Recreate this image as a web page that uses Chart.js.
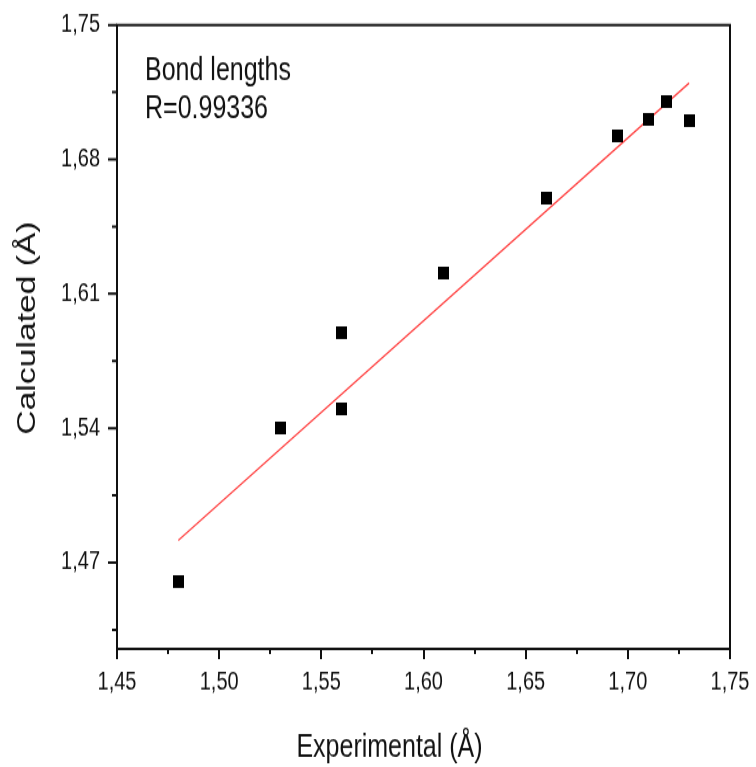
<!DOCTYPE html>
<html><head><meta charset="utf-8">
<script src="https://cdn.jsdelivr.net/npm/chart.js@4"></script>
<style>
html,body{margin:0;padding:0;background:#fff;width:756px;height:767px}
#outer{width:756px;height:767px;position:relative;overflow:visible}
#wrap{position:absolute;left:0;top:0;width:756px;height:604px;transform:scaleY(1.26987);transform-origin:0 0}
canvas{display:block}
</style>
</head><body><div id="outer"><div id="wrap"><canvas id="c" width="756" height="604"></canvas></div></div>
<script>
const experimental = [1.48, 1.53, 1.56, 1.56, 1.61, 1.66, 1.695, 1.71, 1.719, 1.73];
const calculated   = [1.460, 1.540, 1.590, 1.550, 1.621, 1.660, 1.692, 1.701, 1.710, 1.700];
const fitX = [1.48, 1.73];
const fitY = [1.4815, 1.7198];
const xTicks = [1.45, 1.50, 1.55, 1.60, 1.65, 1.70, 1.75];
const yTicks = [1.47, 1.54, 1.61, 1.68, 1.75];
const xMinorTicks = [1.475, 1.525, 1.575, 1.625, 1.675, 1.725];
const yMinorTicks = [1.435, 1.505, 1.575, 1.645, 1.715];
const annotation = ['Bond lengths', 'R=0.99336'];
const xTitle = 'Experimental (Å)';
const yTitle = 'Calculated (Å)';

const FONT = '"Liberation Sans", Arial, sans-serif';
const fmt = v => Number(v).toFixed(2).replace('.', ',');

const sq = document.createElement('canvas');
sq.width = 11; sq.height = 10;
const g = sq.getContext('2d'); g.fillStyle = '#000'; g.fillRect(0, 0, 11, 10);

const deco = {
  id: 'deco',
  afterDraw(chart) {
    const {ctx, chartArea: a, scales: {x, y}} = chart;
    ctx.save();
    ctx.strokeStyle = '#111';
    ctx.lineWidth = 2;
    ctx.strokeRect(a.left, a.top, a.right - a.left, a.bottom - a.top);
    ctx.beginPath();
    xTicks.forEach(v => { const p = Math.round(x.getPixelForValue(v)); ctx.moveTo(p, a.bottom); ctx.lineTo(p, a.bottom + 8); });
    xMinorTicks.forEach(v => { const p = Math.round(x.getPixelForValue(v)); ctx.moveTo(p, a.bottom); ctx.lineTo(p, a.bottom + 4); });
    yTicks.forEach(v => { const p = y.getPixelForValue(v); ctx.moveTo(a.left, p); ctx.lineTo(a.left - 9, p); });
    yMinorTicks.forEach(v => { const p = y.getPixelForValue(v); ctx.moveTo(a.left, p); ctx.lineTo(a.left - 5, p); });
    ctx.stroke();

    ctx.fillStyle = '#111';
    ctx.textBaseline = 'alphabetic';
    ctx.textAlign = 'left';
    ctx.font = '25px ' + FONT;
    ctx.fillText(annotation[0], a.left + 28, 63);
    ctx.fillText(annotation[1], a.left + 28, 93);

    ctx.textAlign = 'center';
    ctx.font = '25px ' + FONT;
    ctx.fillText(xTitle, 389.5, 596);

    ctx.save();
    ctx.translate(35, 258.3);
    ctx.rotate(-Math.PI / 2);
    ctx.font = '26.5px ' + FONT;
    ctx.textAlign = 'center';
    ctx.fillText(yTitle, 0, 0);
    ctx.restore();
    ctx.restore();
  }
};

new Chart(document.getElementById('c'), {
  data: {
    datasets: [
      {
        type: 'scatter',
        label: 'Bond lengths',
        data: experimental.map((v, i) => ({x: v, y: calculated[i]})),
        pointStyle: sq,
        pointRadius: 6,
        backgroundColor: '#000',
        borderColor: '#000',
        order: 1
      },
      {
        type: 'line',
        label: 'Linear fit',
        data: fitX.map((v, i) => ({x: v, y: fitY[i]})),
        borderColor: 'rgb(255,70,70)',
        borderWidth: 1.3,
        pointRadius: 0,
        fill: false,
        order: 2
      }
    ]
  },
  options: {
    responsive: false,
    animation: false,
    devicePixelRatio: 1,
    layout: {padding: {top: 19.7, right: 26, left: 0, bottom: 0}},
    plugins: {legend: {display: false}, tooltip: {enabled: false}},
    scales: {
      x: {
        type: 'linear', position: 'bottom', min: 1.45, max: 1.75,
        afterBuildTicks: s => { s.ticks = xTicks.map(v => ({value: v})); },
        afterFit: s => { s.height = 93; },
        grid: {display: true, drawOnChartArea: false, drawTicks: true, tickLength: 8, tickColor: 'rgba(0,0,0,0)'},
        border: {display: false},
        ticks: {callback: v => fmt(v), font: {family: FONT, size: 20}, color: '#111', padding: 6, maxRotation: 0, autoSkip: false}
      },
      y: {
        type: 'linear', position: 'left', min: 1.425, max: 1.75,
        afterBuildTicks: s => { s.ticks = yTicks.map(v => ({value: v})); },
        afterFit: s => { s.width = 117; },
        grid: {display: true, drawOnChartArea: false, drawTicks: true, tickLength: 11, tickColor: 'rgba(0,0,0,0)'},
        border: {display: false},
        ticks: {callback: v => fmt(v), font: {family: FONT, size: 20}, color: '#111', padding: 6, autoSkip: false}
      }
    }
  },
  plugins: [deco]
});
</script>
</body></html>
